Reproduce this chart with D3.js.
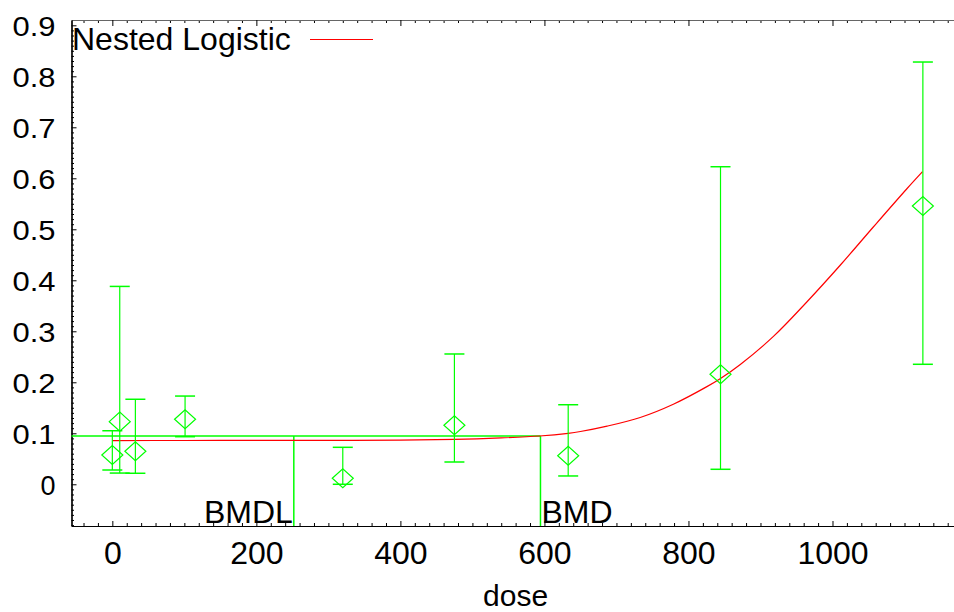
<!DOCTYPE html>
<html>
<head>
<meta charset="utf-8">
<script src="https://cdn.jsdelivr.net/npm/d3@7"></script>
<style>
  body { margin: 0; background: #fff; }
  svg { display: block; font-family: "Liberation Sans", Arial, sans-serif; }
</style>
</head>
<body>
<svg id="chart" width="954" height="612"></svg>
<script>
// observed dose groups
var doses = [0, 10.3, 32, 101, 320, 475, 633, 844.5, 1125.5];
var means = [0.0575, 0.1228, 0.0647, 0.1274, 0.0118, 0.1157, 0.056, 0.2157, 0.5457];
var lower = [0.028, 0.022, 0.0216, 0.0933, 0.0, 0.0437, 0.0163, 0.0294, 0.2353];
var upper = [0.105, 0.388, 0.1667, 0.173, 0.0725, 0.2555, 0.156, 0.6227, 0.828];

// fitted nested logistic curve
var curveDose = [0, 100, 200, 300, 400, 475, 540, 593, 633, 650, 687, 733, 779, 825, 844, 872, 918, 964, 1011, 1057, 1103, 1125];
var curveResp = [0.0858, 0.0859, 0.086, 0.0862, 0.0866, 0.088, 0.091, 0.0947, 0.1, 0.1035, 0.114, 0.131, 0.157, 0.191, 0.207, 0.235, 0.29, 0.357, 0.43, 0.505, 0.579, 0.613];

var bmdl = 252, bmd = 594.5, bmrLevel = 0.0947;

var yTicks = [0, 0.1, 0.2, 0.3, 0.4, 0.5, 0.6, 0.7, 0.8, 0.9];
var xTicks = [0, 200, 400, 600, 800, 1000];

var svg = d3.select("#chart");
var plotLeft = 71.5, plotRight = 954.2, plotTop = 20, plotBottom = 526;

var x = d3.scaleLinear().domain([-56.7, 1169]).range([plotLeft, plotRight]);
var y = d3.scaleLinear().domain([-0.0818, 0.9104]).range([plotBottom, plotTop]);

var green = "#00ff00", red = "#ff0000";

// axes
var xMinor = d3.range(-40, 1170, 20).filter(function(v){ return xTicks.indexOf(v) < 0; });
var yMinor = d3.range(-8, 92, 1).map(function(v){ return v/100; }).filter(function(v){ return v > -0.0818 && v < 0.91 && Math.round(v*100) % 10 != 0; });

svg.append("g").attr("transform", "translate(0," + plotBottom + ")")
  .call(d3.axisBottom(x).tickValues(xMinor).tickFormat("").tickSize(-3).tickSizeOuter(0));
svg.append("g").attr("transform", "translate(0," + plotBottom + ")")
  .call(d3.axisBottom(x).tickValues(xTicks).tickFormat(d3.format("d")).tickSize(-5).tickSizeOuter(0).tickPadding(15))
  .call(function(g){ g.selectAll("text").attr("font-size", 32).attr("font-family", "Liberation Sans, Arial").attr("fill", "#000"); });

svg.append("g").attr("transform", "translate(0," + plotTop + ")")
  .call(d3.axisTop(x).tickValues(xMinor).tickFormat("").tickSize(-3).tickSizeOuter(0));
svg.append("g").attr("transform", "translate(0," + plotTop + ")")
  .call(d3.axisTop(x).tickValues(xTicks).tickFormat("").tickSize(-6).tickSizeOuter(0))
  .select(".domain").attr("stroke", "#666");

svg.append("g").attr("transform", "translate(" + plotLeft + ",0)")
  .call(d3.axisLeft(y).tickValues(yMinor).tickFormat("").tickSize(-2.5).tickSizeOuter(0));
svg.append("g").attr("transform", "translate(" + plotLeft + ",0)")
  .call(d3.axisLeft(y).tickValues(yTicks).tickFormat(function(d){ return d == 0 ? "0" : d3.format(".1f")(d); })
    .tickSize(-5).tickSizeOuter(0).tickPadding(16))
  .call(function(g){
    g.selectAll("text").attr("font-size", 28).attr("font-family", "Liberation Sans, Arial").attr("fill", "#000")
      .attr("dy", "0.36em")
      .attr("textLength", function(d){ return d == 0 ? 15 : 43; })
      .attr("lengthAdjust", "spacingAndGlyphs");
  });

svg.selectAll(".domain").attr("stroke-width", 1.2);

// x axis title
svg.append("text").attr("x", x(560)).attr("y", 606).attr("text-anchor", "middle")
  .attr("font-size", 30).text("dose");

// BMD lines
svg.append("line").attr("x1", plotLeft).attr("x2", x(bmd)).attr("y1", y(bmrLevel)).attr("y2", y(bmrLevel))
  .attr("stroke", green).attr("stroke-width", 1.5);
[bmdl, bmd].forEach(function(v){
  svg.append("line").attr("x1", x(v)).attr("x2", x(v)).attr("y1", plotBottom).attr("y2", y(bmrLevel))
    .attr("stroke", green).attr("stroke-width", 1.5);
});
svg.append("text").attr("x", x(bmdl) - 1).attr("y", 523).attr("text-anchor", "end")
  .attr("font-size", 32).text("BMDL");
svg.append("text").attr("x", x(bmd) + 1).attr("y", 523).attr("text-anchor", "start")
  .attr("font-size", 32).text("BMD");

// fitted curve
var line = d3.line()
  .x(function(d){ return x(d[0]); })
  .y(function(d){ return y(d[1]); })
  .curve(d3.curveCatmullRom);
svg.append("path").datum(d3.zip(curveDose, curveResp))
  .attr("d", line).attr("fill", "none").attr("stroke", red).attr("stroke-width", 1.2);

// error bars + diamonds
var pts = svg.append("g").selectAll("g")
  .data(doses)
  .enter()
  .append("g");

pts.append("line")
  .attr("x1", function(d){ return x(d); }).attr("x2", function(d){ return x(d); })
  .attr("y1", function(d,i){ return y(lower[i]); }).attr("y2", function(d,i){ return y(upper[i]); })
  .attr("stroke", green).attr("stroke-width", 1.2);
pts.append("line")
  .attr("x1", function(d){ return x(d) - 10; }).attr("x2", function(d){ return x(d) + 10; })
  .attr("y1", function(d,i){ return y(upper[i]); }).attr("y2", function(d,i){ return y(upper[i]); })
  .attr("stroke", green).attr("stroke-width", 1.5);
pts.append("line")
  .attr("x1", function(d){ return x(d) - 10; }).attr("x2", function(d){ return x(d) + 10; })
  .attr("y1", function(d,i){ return y(lower[i]); }).attr("y2", function(d,i){ return y(lower[i]); })
  .attr("stroke", green).attr("stroke-width", 1.5);
pts.append("path")
  .attr("transform", function(d,i){ return "translate(" + x(d) + "," + y(means[i]) + ")"; })
  .attr("d", "M-10.5,0L0,-9.5L10.5,0L0,9.5Z")
  .attr("fill", "none").attr("stroke", green).attr("stroke-width", 1.2);

// legend
svg.append("text").attr("x", 72).attr("y", 50).attr("font-size", 32).text("Nested Logistic");
svg.append("line").attr("x1", 310).attr("x2", 373).attr("y1", 39.5).attr("y2", 39.5)
  .attr("stroke", red).attr("stroke-width", 1.2);
</script>
</body>
</html>
